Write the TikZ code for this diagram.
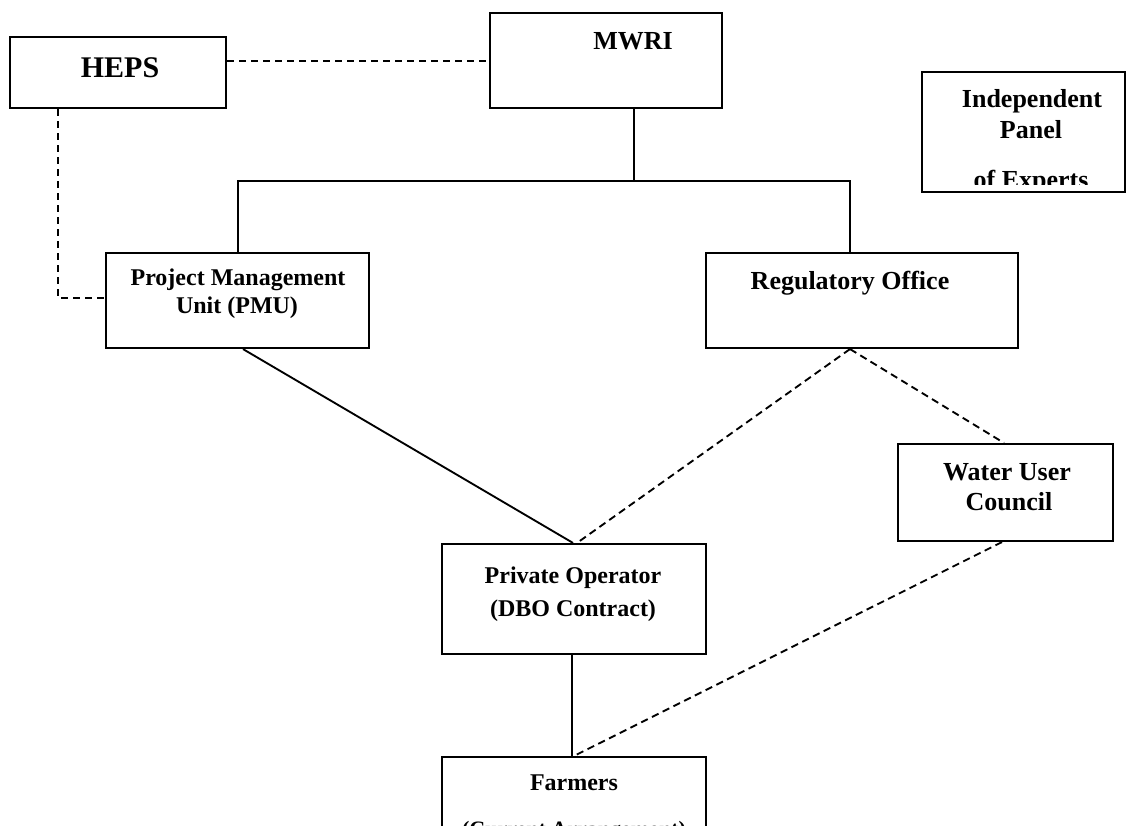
\documentclass[tikz,border=0pt]{standalone}
\usepackage{fontspec}
\setmainfont{Liberation Serif}
\usetikzlibrary{fit}
\begin{document}
\begin{tikzpicture}[x=0.75pt,y=-0.75pt,
  box/.style={draw, line width=1.6pt, inner sep=0pt, rectangle},
  conn/.style={line width=1.4pt},
  dconn/.style={line width=1.4pt, dash pattern=on 5.5pt off 3.5pt},
  lbl/.style={anchor=base, inner sep=0pt, font=\bfseries\fontsize{19.5}{23}\selectfont},
  slbl/.style={anchor=base, inner sep=0pt, font=\bfseries\fontsize{18}{21}\selectfont},
  hlbl/.style={anchor=base, inner sep=0pt, font=\bfseries\fontsize{22.5}{26}\selectfont}]
\clip (0,0) rectangle (1128,825);
\useasboundingbox (0,0) rectangle (1128,825);
\fill[white] (0,0) rectangle (1128,825);

% boxes
\node[box, fit={(10,37) (226,108)}] (heps) {};
\node[box, fit={(490,13) (722,108)}] (mwri) {};
\node[box, fit={(106,253) (369,348)}] (pmu) {};
\node[box, fit={(706,253) (1018,348)}] (reg) {};
\node[box, fit={(898,444) (1113,541)}] (wuc) {};
\node[box, fit={(442,544) (706,654)}] (po) {};
\node[box, fit={(442,757) (706,860)}] (farm) {};
\node[box, fit={(922,72) (1125,192)}] (iep) {};

% texts
\node[hlbl] (tHEPS) at (120,77) {HEPS};
\node[lbl] (tMWRI) at (633,49) {MWRI};
\node[slbl] (tPMU1) at (238,285) {Project Management};
\node[slbl] (tPMU2) at (237,313) {Unit (PMU)};
\node[lbl] (tREG) at (850,289) {Regulatory Office};
\node[lbl] (tWUC1) at (1007,480) {Water User};
\node[lbl] (tWUC2) at (1009,510) {Council};
\node[slbl] (tPO1) at (573,583) {Private Operator};
\node[slbl] (tPO2) at (573,616) {(DBO Contract)};
\node[slbl] (tFARM1) at (574,790) {Farmers};
\node[slbl, font=\bfseries\fontsize{16.5}{20}\selectfont] (tFARM2) at (574,836) {(Current Arrangement)};
\node[lbl] (tIEP1) at (1032,107) {Independent};
\node[lbl] (tIEP2) at (1031,138) {Panel};
\begin{scope}
  \clip (922,72) rectangle (1125,184);
  \node[lbl] (tIEP3) at (1031,188) {of Experts};
\end{scope}

% junction coordinates
\coordinate (jt) at (634,181);
\coordinate (jl) at (238,181);
\coordinate (jr) at (850,181);
\coordinate (hc) at (58,298);

% connectors
\draw[dconn] (heps.east |- 0,61) -- (mwri.west |- 0,61);
\draw[conn] (mwri.south -| jt) -- (jt);
\draw[conn] (pmu.north -| jl) -- (jl) -- (jr) -- (reg.north -| jr);
\draw[dconn] (heps.south -| hc) -- (hc) -- (pmu.west |- hc);
\draw[conn] (pmu.south -| 243,0) -- (po.north -| 573,0);
\draw[dconn] (reg.south -| jr) -- (po.north -| 577,0);
\draw[dconn] (reg.south -| jr) -- (wuc.north -| 1004,0);
\draw[conn] (po.south -| 572,0) -- (farm.north -| 572,0);
\draw[dconn] (wuc.south -| 1002,0) -- (farm.north -| 574,0);
\end{tikzpicture}
\end{document}
